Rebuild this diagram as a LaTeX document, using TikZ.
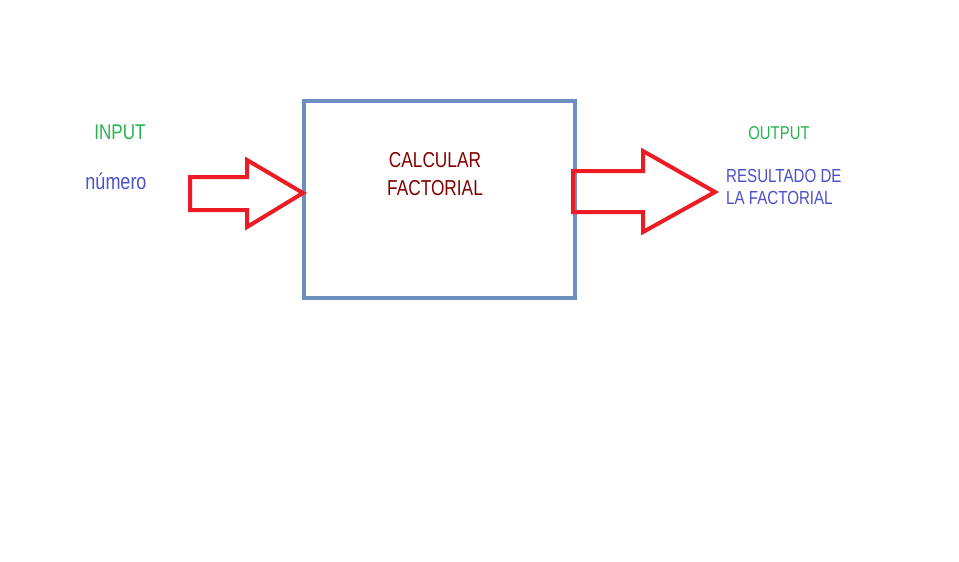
\documentclass[tikz,border=0pt]{standalone}
\usepackage{fontspec}
\newfontfamily\nfont[FakeStretch=0.8]{Liberation Sans}
\definecolor{boxblue}{RGB}{108,143,190}
\definecolor{arrred}{RGB}{237,28,36}
\definecolor{ingreen}{RGB}{40,180,80}
\definecolor{txtblue}{RGB}{75,80,205}
\definecolor{darkred}{RGB}{128,0,0}
\begin{document}
\begin{tikzpicture}[x=1pt,y=-1pt,
  lbl/.style={font=\nfont, inner sep=0pt},
  fatarrow/.style={draw=arrred, line width=4pt, line join=miter, fill=none}]
\useasboundingbox[fill=white] (0,0) rectangle (959,562);
% box
\node[draw=boxblue, line width=4pt, minimum width=271pt, minimum height=197pt, inner sep=0pt] (box) at (439.5,199.5) {};
% texts
\node[lbl, text=ingreen, font=\nfont\fontsize{21.3}{24}\selectfont] (input) at (120,132) {INPUT};
\node[lbl, text=txtblue, font=\nfont\fontsize{22.5}{24}\selectfont] (num) at (116,181) {número};
\node[lbl, text=darkred, align=center, font=\nfont\fontsize{21.6}{28}\selectfont] (calc) at (435,174) {CALCULAR\\FACTORIAL};
\node[lbl, text=ingreen, font=\nfont\fontsize{18.6}{22}\selectfont] (output) at (779,133) {OUTPUT};
\node[lbl, text=txtblue, anchor=west, align=left, font=\nfont\fontsize{18.9}{22}\selectfont] (res) at (726,187) {RESULTADO DE\\LA FACTORIAL};
% arrows
\coordinate (ltip) at (303,193);
\coordinate (rtip) at (715,192);
\draw[fatarrow] (190,177) -- (247,177) -- (247,160) -- (ltip) -- (247,227) -- (247,210) -- (190,210) -- cycle;
\draw[fatarrow] (573,171) -- (643,171) -- (643,151) -- (rtip) -- (643,232) -- (643,212) -- (573,212) -- cycle;
\end{tikzpicture}
\end{document}
